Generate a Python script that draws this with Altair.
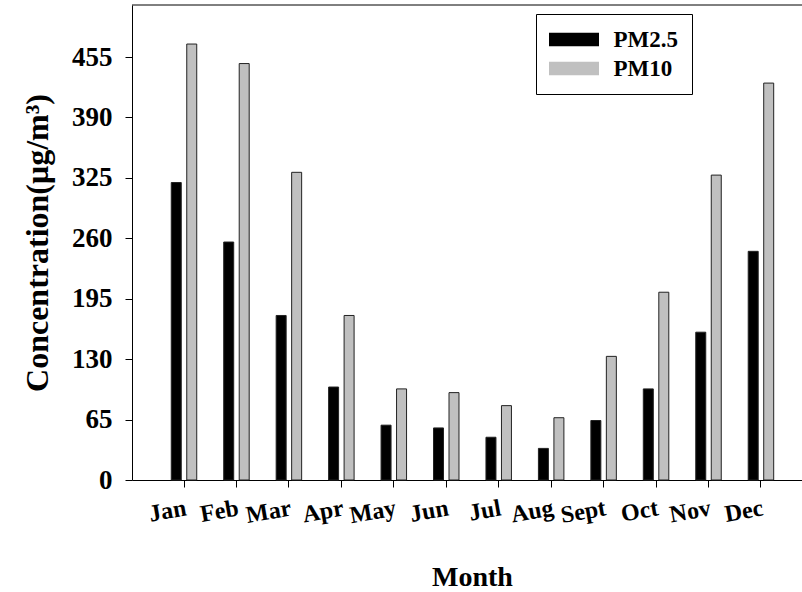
import altair as alt
import pandas as pd

# ---- data ----
months = ["Jan", "Feb", "Mar", "Apr", "May", "Jun", "Jul", "Aug", "Sept", "Oct", "Nov", "Dec"]
pm25 = [320, 256, 177, 100, 59, 56, 46, 34, 64, 98, 159, 246]
pm10 = [469, 448, 331, 177, 98, 94, 80, 67, 133, 202, 328, 427]
series = ["PM2.5", "PM10"]
series_colors = ["#000000", "#c0c0c0"]
y_ticks = [0, 65, 130, 195, 260, 325, 390, 455]
y_max = 511

df = pd.DataFrame({
    "Month": months * 2,
    "Series": [series[0]] * len(months) + [series[1]] * len(months),
    "Value": pm25 + pm10,
})
top_df = pd.DataFrame({"top": [y_max]})

FONT = "Liberation Serif"

x_enc = alt.X(
    "Month:N",
    sort=months,
    scale=alt.Scale(domain=months, paddingInner=0, paddingOuter=0.387, align=0.635),
    axis=alt.Axis(
        title="Month",
        labelAngle=350,
        labelAlign="right",
        labelBaseline="top",
        labelPadding=9,
        labelFontSize=24,
        tickSize=7,
        bandPosition=0.5,
        titleFontSize=28,
        titleX=340,
        titleY=105,
        titleAlign="center",
        titleBaseline="alphabetic",
    ),
)

y_enc = alt.Y(
    "Value:Q",
    scale=alt.Scale(domain=[0, y_max], nice=False, zero=True),
    axis=alt.Axis(
        values=y_ticks,
        title="Concentration(μg/m³)",
        labelFontSize=27,
        labelPadding=13,
        tickSize=7,
        titleFontSize=32,
        titleAngle=270,
        titleX=-85,
        titleY=237.5,
        titleAlign="center",
        titleBaseline="alphabetic",
    ),
)

bars = alt.Chart(df).mark_bar(stroke="#222222", strokeWidth=1).encode(
    x=x_enc,
    y=y_enc,
    xOffset=alt.XOffset(
        "Series:N",
        sort=series,
        scale=alt.Scale(domain=series, paddingInner=0.355, paddingOuter=0.87),
    ),
    color=alt.Color(
        "Series:N",
        sort=series,
        scale=alt.Scale(domain=series, range=series_colors),
        legend=alt.Legend(
            title=None,
            orient="none",
            legendX=404,
            legendY=9,
            direction="vertical",
            symbolType="M-2,-0.54H2V0.54H-2Z",
            symbolSize=625,
            symbolOffset=12.5,
            symbolStrokeWidth=0,
            labelOffset=27,
            labelFont=FONT,
            labelFontSize=23,
            labelFontWeight="bold",
            labelColor="black",
            padding=13,
            rowPadding=4,
            strokeColor="black",
            fillColor="white",
        ),
    ),
)

top_line = alt.Chart(top_df).mark_rule(color="black", strokeWidth=1).encode(
    y=alt.datum(y_max)
)

chart = (
    alt.layer(bars, top_line)
    .properties(
        width=670,
        height=475,
        autosize=alt.AutoSizeParams(type="none"),
        padding={"left": 132, "top": 5, "right": 0, "bottom": 112},
        background="white",
    )
    .configure_view(stroke=None)
    .configure_axis(
        grid=False,
        domainColor="black",
        domainWidth=1,
        tickColor="black",
        tickWidth=1,
        labelFont=FONT,
        labelFontWeight="bold",
        labelColor="black",
        titleFont=FONT,
        titleFontWeight="bold",
        titleColor="black",
    )
)

chart.save("out.html", embed_options={"renderer": "svg", "actions": False})
